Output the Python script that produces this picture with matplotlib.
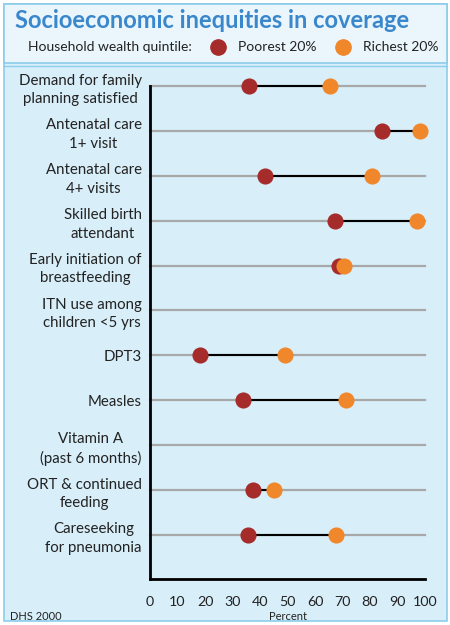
import matplotlib
matplotlib.use("Agg")
import matplotlib.pyplot as plt
from matplotlib.patches import Rectangle
from matplotlib.lines import Line2D

categories = ["Demand for family\nplanning satisfied", "Antenatal care\n1+ visit",
              "Antenatal care\n4+ visits", "Skilled birth\nattendant",
              "Early initiation of\nbreastfeeding", "ITN use among\nchildren <5 yrs",
              "DPT3", "Measles", "Vitamin A\n(past 6 months)",
              "ORT & continued\nfeeding", "Careseeking\nfor pneumonia"]
poorest = [36, 84.5, 41.7, 67.3, 68.7, None, 18.2, 33.9, None, 37.3, 35.8]
richest = [65.3, 98.2, 80.6, 97.1, 70.4, None, 49.1, 71.3, None, 45.1, 67.6]
xticks = [0, 10, 20, 30, 40, 50, 60, 70, 80, 90, 100]

poor_col = "#A52C2B"
rich_col = "#F0872A"
bg = "#D8EEF9"
border = "#8CCDEB"
font = "Lato"

W, H = 450, 625
fig = plt.figure(figsize=(W / 100, H / 100), dpi=100)
fig.patch.set_facecolor("white")

def fx(px):
    return px / W

def fy(py):
    return 1 - py / H

# panel background and header box (behind the axes)
fig.add_artist(Rectangle((fx(4), fy(621)), fx(443), 617 / H, transform=fig.transFigure,
                         facecolor=bg, edgecolor=border, lw=1.2, zorder=-5))
fig.add_artist(Rectangle((fx(4), fy(63)), fx(443), 59 / H, transform=fig.transFigure,
                         facecolor="#EAF6FC", edgecolor=border, lw=1.2, zorder=-4))
fig.add_artist(Line2D([fx(4), fx(447)], [fy(66), fy(66)], transform=fig.transFigure,
                      color=border, lw=1.0, zorder=-4))

fig.text(fx(15), fy(20), "Socioeconomic inequities in coverage", fontsize=17, fontweight="bold",
         color="#3A87CB", family=font, va="center", ha="left")
fig.text(fx(28), fy(47), "Household wealth quintile:", fontsize=10, family=font,
         color="#222222", va="center", ha="left")
for x0, col, lab in [(218, poor_col, "Poorest 20%"), (343, rich_col, "Richest 20%")]:
    fig.add_artist(Line2D([fx(x0)], [fy(47)], marker="o", markersize=11, color=col,
                          transform=fig.transFigure))
    fig.text(fx(x0 + 20), fy(47), lab, fontsize=10, family=font, color="#222222",
             va="center", ha="left")

ax = fig.add_axes([fx(150), fy(579), fx(425) - fx(150), (579 - 86) / H])
ax.set_facecolor("none")
n = len(categories)
ax.set_xlim(0, 100)
ax.set_ylim(n - 0.02, 0)

for i, (p, r) in enumerate(zip(poorest, richest)):
    ax.plot([0, 100], [i, i], color="#A8A8A8", lw=1.6, zorder=1, clip_on=False)
    if p is None:
        continue
    ax.plot([p, r], [i, i], color="black", lw=1.5, zorder=2, clip_on=False)
    ax.scatter([p], [i], s=135, color=poor_col, zorder=3, clip_on=False, linewidths=0)
    ax.scatter([r], [i], s=135, color=rich_col, zorder=4, clip_on=False, linewidths=0)

ax.set_yticks(range(n))
ax.set_yticklabels(categories, fontsize=10.8, family=font, color="#222222",
                   multialignment="center", linespacing=1.4)
ax.tick_params(axis="y", length=0, pad=6)
ax.set_xticks(xticks)
ax.set_xticklabels([str(t) for t in xticks], fontsize=10.3, family=font, color="#222222")
ax.tick_params(axis="x", length=0, pad=12)
for s in ["top", "right"]:
    ax.spines[s].set_visible(False)
for s in ["left", "bottom"]:
    ax.spines[s].set_linewidth(2)
    ax.spines[s].set_color("black")

fig.text(fx(288), fy(617), "Percent", fontsize=8, family=font, color="#222222",
         ha="center", va="center")
fig.text(fx(10), fy(617), "DHS 2000", fontsize=8, family=font, color="#222222",
         ha="left", va="center")

fig.savefig("out.png", dpi=100, facecolor=fig.get_facecolor())
